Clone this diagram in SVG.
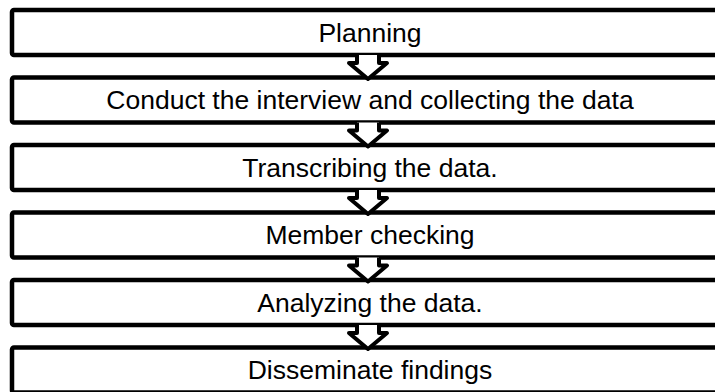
<svg xmlns="http://www.w3.org/2000/svg" width="715" height="392" viewBox="0 0 715 392">
<defs>
<style>
.box{fill:#fff;stroke:#000;stroke-width:4.5}
.lbl{font-family:"Liberation Sans",Arial,sans-serif;font-size:26.5px;fill:#000;text-anchor:middle}
.arr{fill:#fff;stroke:#000;stroke-width:4;stroke-linejoin:round}
</style>
<path id="ar" class="arr" d="M0,0 L0,8 L-8,8 L11,24 L30,8 L22,8 L22,0"/>
</defs>
<rect width="715" height="392" fill="#fff"/>
<g id="n1"><rect class="box" x="12" y="10" width="730" height="45" rx="2"/><text class="lbl" x="370" y="41.5">Planning</text></g>
<g id="n2"><rect class="box" x="12" y="77.5" width="730" height="45" rx="2"/><text class="lbl" x="370" y="109">Conduct the interview and collecting the data</text></g>
<g id="n3"><rect class="box" x="12" y="145" width="730" height="45" rx="2"/><text class="lbl" x="370" y="176.5">Transcribing the data.</text></g>
<g id="n4"><rect class="box" x="12" y="212.5" width="730" height="45" rx="2"/><text class="lbl" x="370" y="244">Member checking</text></g>
<g id="n5"><rect class="box" x="12" y="280" width="730" height="45" rx="2"/><text class="lbl" x="370" y="311.5">Analyzing the data.</text></g>
<g id="n6"><rect class="box" x="12" y="347.5" width="730" height="45" rx="2"/><text class="lbl" x="370" y="379">Disseminate findings</text></g>
<g id="connectors">
<use href="#ar" x="357" y="55"/>
<use href="#ar" x="357" y="122.5"/>
<use href="#ar" x="357" y="190"/>
<use href="#ar" x="357" y="257.5"/>
<use href="#ar" x="357" y="325"/>
</g>
</svg>
